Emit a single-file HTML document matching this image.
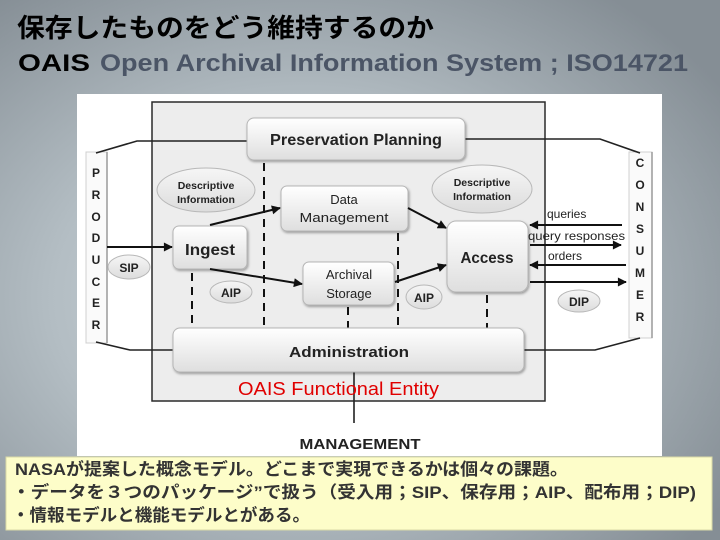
<!DOCTYPE html>
<html><head><meta charset="utf-8">
<style>
html,body{margin:0;padding:0;width:720px;height:540px;overflow:hidden;}
svg{display:block;}
</style></head>
<body>
<svg width="720" height="540" viewBox="0 0 720 540" xmlns="http://www.w3.org/2000/svg">
<defs>
  <radialGradient id="bg" cx="42%" cy="55%" r="70%">
    <stop offset="0" stop-color="#d2dbe0"/>
    <stop offset="0.5" stop-color="#b3bdc3"/>
    <stop offset="1" stop-color="#858e95"/>
  </radialGradient>
  <linearGradient id="bx" x1="0" y1="0" x2="0" y2="1">
    <stop offset="0" stop-color="#ffffff"/>
    <stop offset="1" stop-color="#dedede"/>
  </linearGradient>
  <linearGradient id="el" x1="0" y1="0" x2="0" y2="1">
    <stop offset="0" stop-color="#f6f6f6"/>
    <stop offset="1" stop-color="#dcdcdc"/>
  </linearGradient>
  <marker id="ah" viewBox="0 0 10 10" refX="9" refY="5" markerWidth="10" markerHeight="9" markerUnits="userSpaceOnUse" orient="auto">
    <path d="M0,0 L10,5 L0,10 z" fill="#111"/>
  </marker>
  <filter id="sh" x="-10%" y="-10%" width="130%" height="140%">
    <feDropShadow dx="1" dy="1.5" stdDeviation="1.2" flood-color="#000" flood-opacity="0.35"/>
  </filter>
</defs>

<rect x="0" y="0" width="720" height="540" fill="url(#bg)"/>

<!-- Title -->
<text x="17" y="37" font-family="'Liberation Sans','Noto Sans CJK JP',sans-serif" font-weight="bold" font-size="26" fill="#000" textLength="417" lengthAdjust="spacingAndGlyphs">保存したものをどう維持するのか</text>
<text x="18" y="71" font-family="'Liberation Sans',sans-serif" font-weight="bold" font-size="24" fill="#000" textLength="72" lengthAdjust="spacingAndGlyphs">OAIS</text>
<text x="100" y="71" font-family="'Liberation Sans',sans-serif" font-weight="bold" font-size="24" fill="#4b5566" textLength="588" lengthAdjust="spacingAndGlyphs">Open Archival Information System ; ISO14721</text>

<!-- White panel -->
<rect x="77" y="94" width="585" height="362" fill="#ffffff"/>

<!-- OAIS gray box -->
<rect x="152" y="102" width="393" height="299" fill="#ededed" stroke="#2a2a2a" stroke-width="1.5"/>

<!-- Producer / Consumer columns -->
<rect x="86" y="152" width="21" height="191" fill="#fafafa" stroke="#d0d0d0" stroke-width="1"/>
<line x1="107" y1="152" x2="107" y2="343" stroke="#9a9a9a" stroke-width="1.5"/>
<rect x="629" y="152" width="23" height="186" fill="#fafafa" stroke="#d0d0d0" stroke-width="1"/>
<line x1="652" y1="152" x2="652" y2="338" stroke="#9a9a9a" stroke-width="1.5"/>

<!-- connector lines -->
<g fill="none" stroke="#222" stroke-width="1.6">
  <polyline points="96,153 137,141 247,141"/>
  <polyline points="465,139 600,139 640,153"/>
  <polyline points="96,342 130,350 173,350"/>
  <polyline points="524,350 595,350 640,338"/>
  <line x1="354" y1="372" x2="354" y2="423"/>
</g>

<!-- dashed lines -->
<g stroke="#111" stroke-width="2" stroke-dasharray="8,6">
  <line x1="264" y1="163" x2="264" y2="328"/>
  <line x1="192" y1="273" x2="192" y2="328"/>
  <line x1="348" y1="307" x2="348" y2="328"/>
  <line x1="398" y1="233" x2="398" y2="328"/>
  <line x1="487" y1="295" x2="487" y2="328"/>
</g>

<!-- Boxes -->
<g fill="url(#bx)" stroke="#b5b5b5" stroke-width="1" filter="url(#sh)">
  <rect x="247" y="118" width="218" height="42" rx="7"/>
  <rect x="281" y="186" width="127" height="45" rx="6"/>
  <rect x="173" y="226" width="74" height="43" rx="6"/>
  <rect x="303" y="262" width="91" height="43" rx="6"/>
  <rect x="447" y="221" width="81" height="71" rx="9"/>
  <rect x="173" y="328" width="351" height="44" rx="7"/>
</g>

<!-- Ellipses -->
<g fill="url(#el)" stroke="#b8b8b8" stroke-width="1">
  <ellipse cx="206" cy="190" rx="49" ry="22"/>
  <ellipse cx="482" cy="189" rx="50" ry="24"/>
  <ellipse cx="129" cy="267" rx="21" ry="12"/>
  <ellipse cx="231" cy="292" rx="21" ry="11"/>
  <ellipse cx="424" cy="297" rx="18" ry="12"/>
  <ellipse cx="579" cy="301" rx="21" ry="11"/>
</g>

<!-- Arrows -->
<g stroke="#111" stroke-width="2" marker-end="url(#ah)">
  <line x1="107" y1="247" x2="172" y2="247"/>
  <line x1="210" y1="225" x2="280" y2="208"/>
  <line x1="210" y1="269" x2="302" y2="284"/>
  <line x1="408" y1="208" x2="446" y2="228"/>
  <line x1="395" y1="282" x2="446" y2="265"/>
  <line x1="622" y1="225" x2="530" y2="225"/>
  <line x1="530" y1="245" x2="621" y2="245"/>
  <line x1="626" y1="265" x2="530" y2="265"/>
  <line x1="530" y1="282" x2="626" y2="282"/>
</g>

<!-- Box labels -->
<g font-family="'Liberation Sans',sans-serif" fill="#222" text-anchor="middle">
  <text x="356" y="145" font-size="16" font-weight="bold" textLength="172" lengthAdjust="spacingAndGlyphs">Preservation Planning</text>
  <text x="344" y="204" font-size="13">Data</text>
  <text x="344" y="222" font-size="13" textLength="89" lengthAdjust="spacingAndGlyphs">Management</text>
  <text x="210" y="255" font-size="16" font-weight="bold" textLength="50" lengthAdjust="spacingAndGlyphs">Ingest</text>
  <text x="349" y="279" font-size="13">Archival</text>
  <text x="349" y="298" font-size="13">Storage</text>
  <text x="487" y="263" font-size="16" font-weight="bold" textLength="53" lengthAdjust="spacingAndGlyphs">Access</text>
  <text x="349" y="357" font-size="15" font-weight="bold" textLength="120" lengthAdjust="spacingAndGlyphs">Administration</text>
  <text x="206" y="189" font-size="10.5" font-weight="bold">Descriptive</text>
  <text x="206" y="203" font-size="10.5" font-weight="bold">Information</text>
  <text x="482" y="186" font-size="10.5" font-weight="bold">Descriptive</text>
  <text x="482" y="200" font-size="10.5" font-weight="bold">Information</text>
  <text x="129" y="272" font-size="12" font-weight="bold">SIP</text>
  <text x="231" y="297" font-size="12" font-weight="bold">AIP</text>
  <text x="424" y="302" font-size="12" font-weight="bold">AIP</text>
  <text x="579" y="306" font-size="12" font-weight="bold">DIP</text>
  <text x="360" y="449" font-size="15" font-weight="bold" textLength="121" lengthAdjust="spacingAndGlyphs">MANAGEMENT</text>
</g>

<!-- Consumer interface labels -->
<g font-family="'Liberation Sans',sans-serif" fill="#222" font-size="12">
  <text x="547" y="218">queries</text>
  <text x="528" y="240" textLength="97" lengthAdjust="spacingAndGlyphs">query responses</text>
  <text x="548" y="260">orders</text>
</g>

<!-- Producer letters -->
<g font-family="'Liberation Sans',sans-serif" fill="#222" font-size="12" font-weight="bold" text-anchor="middle">
  <text x="96" y="177">P</text>
  <text x="96" y="199">R</text>
  <text x="96" y="221">O</text>
  <text x="96" y="242">D</text>
  <text x="96" y="264">U</text>
  <text x="96" y="286">C</text>
  <text x="96" y="307">E</text>
  <text x="96" y="329">R</text>
  <text x="640" y="167">C</text>
  <text x="640" y="189">O</text>
  <text x="640" y="211">N</text>
  <text x="640" y="233">S</text>
  <text x="640" y="255">U</text>
  <text x="640" y="277">M</text>
  <text x="640" y="299">E</text>
  <text x="640" y="321">R</text>
</g>

<!-- OAIS Functional Entity -->
<text x="238" y="395" font-family="'Liberation Sans',sans-serif" font-size="18" fill="#e00000" textLength="201" lengthAdjust="spacingAndGlyphs">OAIS Functional Entity</text>

<!-- Yellow note -->
<rect x="6" y="457" width="706" height="73" fill="#fdfdc9" stroke="#d9d9a6" stroke-width="1"/>
<g font-family="'Liberation Sans','Noto Sans CJK JP',sans-serif" font-weight="bold" font-size="17" fill="#333">
  <text x="15" y="475" textLength="553" lengthAdjust="spacingAndGlyphs">NASAが提案した概念モデル。どこまで実現できるかは個々の課題。</text>
  <text x="12" y="498" textLength="684" lengthAdjust="spacingAndGlyphs">・データを３つのパッケージ”で扱う（受入用；SIP、保存用；AIP、配布用；DIP)</text>
  <text x="12" y="521" textLength="298" lengthAdjust="spacingAndGlyphs">・情報モデルと機能モデルとがある。</text>
</g>
</svg>
</body></html>
